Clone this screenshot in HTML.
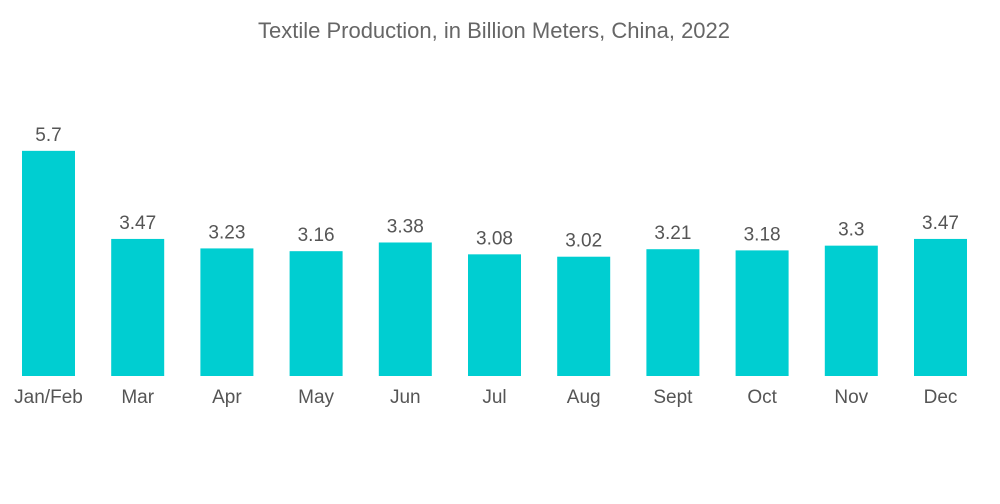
<!DOCTYPE html>
<html><head><meta charset="utf-8"><style>
body{margin:0;background:#fff;font-family:"Liberation Sans",sans-serif;}
svg{display:block}
</style></head><body>
<svg id="chart" width="1000" height="504">
<text x="494" y="38" text-anchor="middle" font-size="22" fill="#666">Textile Production, in Billion Meters, China, 2022</text>
<g id="bars"></g>
</svg>
<script>
const categories=["Jan/Feb","Mar","Apr","May","Jun","Jul","Aug","Sept","Oct","Nov","Dec"];
const values=[5.7,3.47,3.23,3.16,3.38,3.08,3.02,3.21,3.18,3.3,3.47];
const valueLabels=["5.7","3.47","3.23","3.16","3.38","3.08","3.02","3.21","3.18","3.3","3.47"];
const base=376, perUnit=39.5, x0=48.5, step=89.2, bw=53;
const xScale=i=>x0+i*step;
const yScale=v=>base-v*perUnit;
const g=document.getElementById('bars');
const ns="http://www.w3.org/2000/svg";
categories.forEach((c,i)=>{
  const r=document.createElementNS(ns,'rect');
  r.setAttribute('x',xScale(i)-bw/2);
  r.setAttribute('y',yScale(values[i]));
  r.setAttribute('width',bw);
  r.setAttribute('height',base-yScale(values[i]));
  r.setAttribute('fill','#00ced1');
  
  
  g.appendChild(r);
  const t=document.createElementNS(ns,'text');
  t.setAttribute('x',xScale(i));
  t.setAttribute('y',yScale(values[i])-10);
  t.setAttribute('text-anchor','middle');
  t.setAttribute('font-size','19');
  t.setAttribute('fill','#555');
  t.textContent=valueLabels[i];
  
  
  g.appendChild(t);
  const l=document.createElementNS(ns,'text');
  l.setAttribute('x',xScale(i));
  l.setAttribute('y',403);
  l.setAttribute('text-anchor','middle');
  l.setAttribute('font-size','19');
  l.setAttribute('fill','#555');
  l.textContent=c;
  
  
  g.appendChild(l);
});
</script>
</body></html>
